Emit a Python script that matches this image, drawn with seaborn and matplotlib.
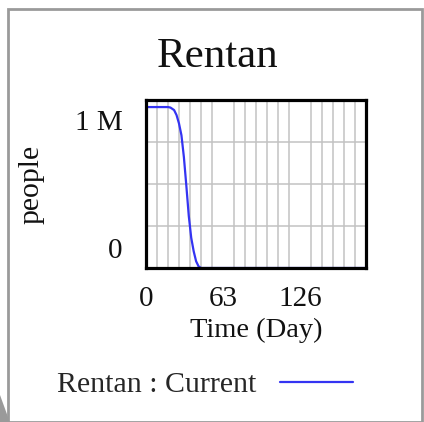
import numpy as np
import pandas as pd
import matplotlib
matplotlib.use("Agg")
import matplotlib.pyplot as plt
import matplotlib.transforms as mtransforms
from matplotlib.patches import Rectangle, Polygon
import seaborn as sns

# values
days = [0, 9, 18, 20, 23, 25, 27, 29, 31, 33, 35, 37, 39, 41, 43, 45, 63, 90, 126, 180]
people = [958000, 958000, 958000, 955000, 940000, 910000, 860000, 790000, 660000,
          490000, 310000, 180000, 100000, 40000, 10000, 0, 0, 0, 0, 0]
x_ticks = [0, 63, 126]
y_ticks = [0, 1000000]
y_tick_labels = ['0', '1 M']
series_name = 'Rentan : Current'

df = pd.DataFrame({'Time': days, 'people': people, 'run': series_name})

sns.set_theme(style="white")
plt.rcParams['font.family'] = ['Liberation Serif', 'DejaVu Serif']

fig = plt.figure(figsize=(4.24, 4.22), dpi=100)
ax = fig.add_axes([146 / 424, 1 - 268 / 422, 220 / 424, 168 / 422])

sns.lineplot(data=df, x='Time', y='people', hue='run', palette=['#3434f2'],
             linewidth=1.6, ax=ax, legend=False)

ax.set_xlim(0, 180)
ax.set_ylim(0, 1000000)
ax.set_xticks(x_ticks)
ax.set_xticks(np.arange(0, 181, 9), minor=True)
ax.set_yticks(y_ticks)
ax.set_yticklabels(y_tick_labels)
ax.set_yticks(np.arange(0, 1000001, 250000), minor=True)
ax.grid(which='minor', color='#c2c2c2', linewidth=1.1)
ax.grid(which='major', visible=False)
ax.tick_params(which='both', length=0, colors='#111111')
ax.tick_params(axis='x', labelsize=21, pad=13)
ax.tick_params(axis='y', labelsize=21, pad=17)

# pull the y labels inward like the original
lbls = ax.get_yticklabels()
for lbl, dy in zip(lbls, [20, -20]):
    lbl.set_transform(lbl.get_transform() + mtransforms.ScaledTranslation(0, dy / 100, fig.dpi_scale_trans))

for s in ax.spines.values():
    s.set_visible(True)
    s.set_color('black')
    s.set_linewidth(2.3)

ax.set_xlabel('Time (Day)', fontsize=20.5, labelpad=4, color='#111111')
ax.set_ylabel('people', fontsize=21.5, labelpad=22, color='#111111')

fig.text(0.512, 1 - 57 / 422, 'Rentan', ha='center', va='center', fontsize=31, color='#111111')

handle = plt.Line2D([], [], color='#3434f2', linewidth=1.6)
fig.legend([handle], [series_name], loc='center left', bbox_to_anchor=(57 / 424, 1 - 385 / 422),
           frameon=False, markerfirst=False, fontsize=21.5, handlelength=2.45,
           handletextpad=0.8, borderaxespad=0, borderpad=0)

# card border
fig.patches.append(Rectangle((8 / 424, 0), 414 / 424, 1 - 9 / 422, transform=fig.transFigure,
                             fill=False, edgecolor='#9a9a9a', linewidth=2, figure=fig))
fig.patches.append(Polygon([(0, 27 / 422), (8 / 424, 5 / 422), (8 / 424, 0), (0, 0)],
                           closed=True, transform=fig.transFigure, facecolor='#9a9a9a',
                           edgecolor='none', figure=fig))

fig.savefig('out.png', dpi=100, facecolor='white')
